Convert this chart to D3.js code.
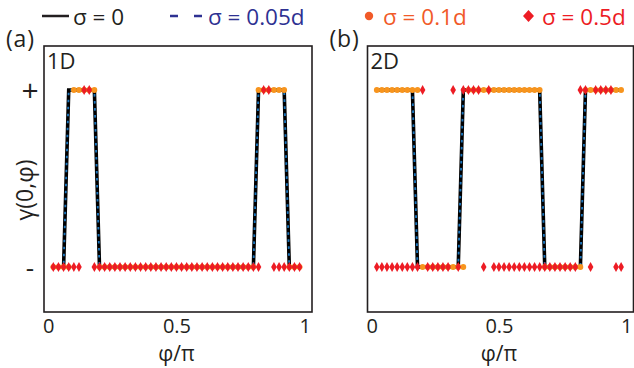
<!DOCTYPE html>
<html><head><meta charset="utf-8">
<script src="https://cdn.jsdelivr.net/npm/d3@7"></script>
<style>body{margin:0;background:#fff}svg{display:block}text{font-family:"Open Sans","Noto Sans",sans-serif;fill:#231f20}</style>
</head><body><svg id="c" width="634" height="368"></svg>
<script>
// ---- data ----
const phi = [0.02,0.04,0.06,0.08,0.10,0.12,0.14,0.16,0.18,0.20,
             0.22,0.24,0.26,0.28,0.30,0.32,0.34,0.36,0.38,0.40,
             0.42,0.44,0.46,0.48,0.50,0.52,0.54,0.56,0.58,0.60,
             0.62,0.64,0.66,0.68,0.70,0.72,0.74,0.76,0.78,0.80,
             0.82,0.84,0.86,0.88,0.90,0.92,0.94,0.96,0.98];
// 1D panel, gamma(0,phi): +1 = "+", -1 = "-"
const g1D_s0 = [-1,-1,-1,1,1,1,1,1,1,-1, -1,-1,-1,-1,-1,-1,-1,-1,-1,-1, -1,-1,-1,-1,-1,-1,-1,-1,-1,-1, -1,-1,-1,-1,-1,-1,-1,-1,-1,-1, 1,1,1,1,1,1,-1,-1,-1];
const g1D_s005 = [-1,-1,-1,1,1,1,1,1,1,-1, -1,-1,-1,-1,-1,-1,-1,-1,-1,-1, -1,-1,-1,-1,-1,-1,-1,-1,-1,-1, -1,-1,-1,-1,-1,-1,-1,-1,-1,-1, 1,1,1,1,1,1,-1,-1,-1];
const g1D_s01 = [-1,-1,-1,-1,1,1,1,1,1,-1, -1,-1,-1,-1,-1,-1,-1,-1,-1,-1, -1,-1,-1,-1,-1,-1,-1,-1,-1,-1, -1,-1,-1,-1,-1,-1,-1,-1,-1,-1, 1,1,1,1,1,1,-1,-1,-1];
const g1D_s05 = [-1,-1,-1,-1,-1,-1,1,1,-1,-1, -1,-1,-1,-1,-1,-1,-1,-1,-1,-1, -1,-1,-1,-1,-1,-1,-1,-1,-1,-1, -1,-1,-1,-1,-1,-1,-1,-1,-1,-1, -1,1,1,-1,-1,-1,-1,-1,-1];
// 2D panel
const g2D_s0 = [1,1,1,1,1,1,1,1,-1,-1, -1,-1,-1,-1,-1,-1,-1,1,1,1, 1,1,1,1,1,1,1,1,1,1, 1,1,1,-1,-1,-1,-1,-1,-1,-1, -1,1,1,1,1,1,1,1,1];
const g2D_s005 = [1,1,1,1,1,1,1,1,-1,-1, -1,-1,-1,-1,-1,-1,-1,1,1,1, 1,1,1,1,1,1,1,1,1,1, 1,1,1,-1,-1,-1,-1,-1,-1,-1, -1,1,1,1,1,1,1,1,1];
const g2D_s01 = [1,1,1,1,1,1,1,1,1,-1, -1,-1,-1,-1,-1,-1,-1,-1,1,1, 1,1,1,1,1,1,1,1,1,1, 1,1,1,-1,-1,-1,-1,-1,-1,-1, -1,1,1,1,1,1,1,1,1];
const g2D_s05 = [-1,-1,-1,-1,-1,-1,-1,-1,-1,1, -1,-1,-1,-1,-1,1,-1,1,1,1, 1,-1,1,-1,-1,-1,-1,-1,-1,-1, -1,-1,-1,-1,-1,-1,-1,-1,-1,-1, 1,1,-1,1,1,1,1,-1,-1];
const xTicks = [0, 0.5, 1];
const xTickLabels = ["0", "0.5", "1"];
const yTicks = [-1, 1];
const yTickLabels = ["-", "+"];
const legendLabels = ["σ = 0", "σ = 0.05d", "σ = 0.1d", "σ = 0.5d"];
const panelLabels = ["(a)", "(b)"];
const panelTitles = ["1D", "2D"];

// ---- styles ----
const C = {black:"#231f20", blue:"#1c75bc", legBlue:"#2e3192", orange:"#f7941d", legOrange:"#f15a29", red:"#ed1c24"};
const svg = d3.select("#c");
const plotTop = 46, plotBottom = 312;
const y = d3.scaleLinear().domain([-1, 1]).range([267, 90]);

const panels = [
  {x0:44, x1:312, label:panelLabels[0], title:panelTitles[0], s0:g1D_s0, s005:g1D_s005, s01:g1D_s01, s05:g1D_s05, yaxis:true},
  {x0:367.5, x1:633.5, label:panelLabels[1], title:panelTitles[1], s0:g2D_s0, s005:g2D_s005, s01:g2D_s01, s05:g2D_s05, yaxis:false}
];
const diamond = (hw, hh) => `M0,${-hh}L${hw},0L0,${hh}L${-hw},0Z`;

panels.forEach(p => {
  const x = d3.scaleLinear().domain([0, 1]).range([p.x0 + 4.2, p.x1 - 7.3]);
  const g = svg.append("g");
  g.append("rect").attr("x", p.x0).attr("y", plotTop).attr("width", p.x1 - p.x0).attr("height", plotBottom - plotTop)
    .attr("fill", "none").attr("stroke", C.black).attr("stroke-width", 1.6);
  const line = d3.line().x(d => x(d[0])).y(d => y(d[1]));
  g.append("path").datum(d3.zip(phi, p.s0)).attr("d", line).attr("fill", "none").attr("stroke", "#000").attr("stroke-width", 3.6);
  g.append("path").datum(d3.zip(phi, p.s005)).attr("d", line).attr("fill", "none").attr("stroke", C.blue).attr("stroke-width", 1.9).attr("stroke-dasharray", "2.6,4.4");
  g.selectAll("circle.o").data(d3.zip(phi, p.s01)).join("circle").attr("class", "o")
    .attr("cx", d => x(d[0])).attr("cy", d => y(d[1])).attr("r", 2.9).attr("fill", C.orange);
  g.selectAll("path.r").data(d3.zip(phi, p.s05)).join("path").attr("class", "r")
    .attr("transform", d => `translate(${x(d[0])},${y(d[1])})`).attr("d", diamond(2.8, 5)).attr("fill", C.red);
  // x axis
  const ax = g.append("g").attr("transform", `translate(0,${plotBottom})`)
    .call(d3.axisBottom(x).tickValues(xTicks).tickFormat((d, i) => xTickLabels[i]).tickSize(0).tickPadding(0));
  ax.select(".domain").remove();
  ax.selectAll("text").attr("y", 20.5).attr("dy", null).attr("font-size", 20).attr("fill", C.black)
    .style("font-family", '"Open Sans","Noto Sans",sans-serif');
  g.append("text").attr("x", x(0.5)).attr("y", 361).attr("text-anchor", "middle").attr("font-size", 21).text("φ/π");
  if (p.yaxis) {
    const ay = g.append("g").attr("transform", `translate(${p.x0},0)`)
      .call(d3.axisLeft(y).tickValues(yTicks).tickFormat((d, i) => yTickLabels[i]).tickSize(0).tickPadding(0));
    ay.select(".domain").remove();
    ay.selectAll("text").attr("x", -14).attr("text-anchor", "middle").attr("dy", "0.36em").attr("fill", C.black)
      .attr("font-size", (d, i) => i === 1 ? 30 : 26)
      .style("font-family", '"Open Sans","Noto Sans",sans-serif');
    g.append("text").attr("transform", `translate(33,190) rotate(-90)`).attr("text-anchor", "middle").attr("font-size", 23).text("γ(0,φ)");
  }
  g.append("text").attr("x", p.x0 - 38).attr("y", 47).attr("font-size", 23).attr("letter-spacing", 0.8).text(p.label);
  g.append("text").attr("x", p.x0 + 3).attr("y", 69).attr("font-size", 22).text(p.title);
});

// legend
const leg = svg.append("g");
const ly = 16;
const lx = [42, 170, 365, 524];
const lcol = [C.black, C.legBlue, C.legOrange, C.red];
leg.append("line").attr("x1", lx[0]).attr("x2", lx[0] + 27).attr("y1", ly).attr("y2", ly).attr("stroke", C.black).attr("stroke-width", 2.5);
leg.append("line").attr("x1", lx[1]).attr("x2", lx[1] + 34).attr("y1", ly).attr("y2", ly).attr("stroke", C.legBlue).attr("stroke-width", 2.5).attr("stroke-dasharray", "8,16");
leg.append("circle").attr("cx", lx[2] + 4).attr("cy", ly).attr("r", 4.2).attr("fill", C.legOrange);
leg.append("path").attr("transform", `translate(${lx[3] + 4.5},${ly})`).attr("d", diamond(5.5, 6)).attr("fill", C.red);
const tx = [73, 208, 383, 542];
legendLabels.forEach((t, i) => {
  leg.append("text").attr("x", tx[i]).attr("y", 24.5).attr("font-size", 22.5).attr("fill", lcol[i]).style("fill", lcol[i]).text(t);
});
</script></body></html>
